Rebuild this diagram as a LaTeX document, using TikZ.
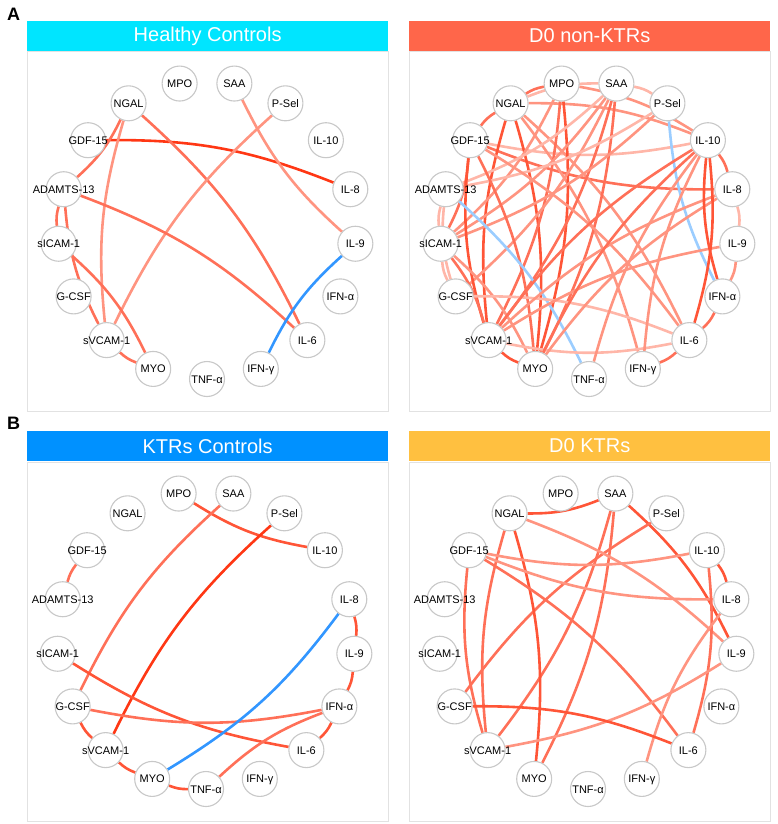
\documentclass[tikz,border=0pt]{standalone}
\usepackage{fontspec}
\setmainfont{Liberation Sans}
\usetikzlibrary{positioning}
\pgfdeclarelayer{links}
\pgfsetlayers{links,main}

% header colours
\definecolor{hccol}{RGB}{0,229,255}
\definecolor{nkcol}{RGB}{255,102,74}
\definecolor{kccol}{RGB}{0,145,255}
\definecolor{dkcol}{RGB}{255,192,64}
\definecolor{ringcol}{RGB}{200,200,200}
\definecolor{framecol}{RGB}{226,226,226}
% link colours
\definecolor{ecD}{RGB}{255,55,20}
\definecolor{ecS}{RGB}{255,85,55}
\definecolor{ecM}{RGB}{255,112,88}
\definecolor{ecL}{RGB}{255,148,128}
\definecolor{ecP}{RGB}{255,182,168}
\definecolor{ecB}{RGB}{50,150,255}
\definecolor{ecNB}{RGB}{155,205,255}

\tikzset{
  cyto/.style={circle, draw=ringcol, line width=1.1pt, fill=white,
    minimum size=35pt, inner sep=0pt, text height=8pt, text depth=0pt,
    font=\fontsize{11}{13}\selectfont},
  link/.style={line width=2.6pt, bend left=11},
  head/.style={minimum width=361pt, minimum height=30.6pt, inner sep=0pt,
    text=white, font=\fontsize{20}{24}\selectfont},
  frame/.style={draw=framecol, line width=0.8pt, minimum width=361pt,
    minimum height=359.5pt, inner sep=0pt, anchor=north},
  tag/.style={font=\bfseries\fontsize{18}{21}\selectfont}
}

% ring of 17 markers: prefix, centre x, centre y
\newcommand{\cytoring}[3]{%
  \foreach \nm/\lbl [count=\i from 0] in {TNFa/TNF-α,IFNg/IFN-γ,IL6/IL-6,
      IFNa/IFN-α,IL9/IL-9,IL8/IL-8,IL10/IL-10,PSel/P-Sel,SAA/SAA,MPO/MPO,
      NGAL/NGAL,GDF15/GDF-15,ADAMTS13/ADAMTS-13,sICAM1/sICAM-1,GCSF/G-CSF,
      sVCAM1/sVCAM-1,MYO/MYO}
    \node[cyto] (#1\nm) at ({#2+149*cos(-90+\i*360/17)},{#3-149*sin(-90+\i*360/17)})
      {\makebox[0pt]{\lbl}};
}
% links of one panel: prefix, list from/to/colour
\newcommand{\cytolinks}[2]{%
  \foreach \a/\b/\c in {#2}
    \draw[link, draw=\c] (#1\a) to (#1\b);
}

\begin{document}
\begin{tikzpicture}[x=1pt, y=-1pt]
  \useasboundingbox (0,0) rectangle (777,824);

  % Panel tags.
  \node[tag] (tagA) at (13.5,14.5) {A};
  \node[tag] (tagB) at (13.5,423.5) {B};

  % Headers and frames.
  \node[head, fill=hccol] (hchead) at (207.65,36) {Healthy Controls};
  \node[frame] (hcframe) at (hchead.south) {};
  \node[head, fill=nkcol] (nkhead) at (589.8,36) {D0 non-KTRs};
  \node[frame] (nkframe) at (nkhead.south) {};
  \node[head, fill=kccol] (kchead) at (207.65,446) {KTRs Controls};
  \node[frame] (kcframe) at (kchead.south) {};
  \node[head, fill=dkcol] (dkhead) at (589.8,446) {D0 KTRs};
  \node[frame] (dkframe) at (dkhead.south) {};

  % Marker rings.
  \cytoring{hc}{207}{230}
  \cytoring{nk}{589}{230}
  \cytoring{kc}{206}{640}
  \cytoring{dk}{588}{640}

  \begin{pgfonlayer}{links}
    % Healthy Controls.
    \cytolinks{hc}{GDF15/IL8/ecD, sVCAM1/NGAL/ecL, NGAL/IL6/ecM,
      NGAL/ADAMTS13/ecM, IL9/SAA/ecL, sVCAM1/PSel/ecL, sICAM1/ADAMTS13/ecM,
      sVCAM1/ADAMTS13/ecM, ADAMTS13/IL6/ecM, sICAM1/MYO/ecM,
      MYO/sVCAM1/ecM, IFNg/IL9/ecB}

    % D0 non-KTRs.
    \cytolinks{nk}{GDF15/NGAL/ecM, NGAL/MPO/ecM, SAA/PSel/ecP, NGAL/SAA/ecP,
      NGAL/IL10/ecL, MPO/IL10/ecL, IL10/GDF15/ecP, IL8/GDF15/ecM,
      sVCAM1/NGAL/ecS, NGAL/MYO/ecS, NGAL/IFNg/ecL, NGAL/IL6/ecL,
      MPO/MYO/ecS, MPO/sVCAM1/ecM, MPO/sICAM1/ecL, SAA/sICAM1/ecL,
      SAA/ADAMTS13/ecP, SAA/sVCAM1/ecM, SAA/MYO/ecM, SAA/GCSF/ecL,
      PSel/ADAMTS13/ecP, PSel/sICAM1/ecL, IFNa/PSel/ecNB, GDF15/sICAM1/ecM,
      sVCAM1/GDF15/ecS, GDF15/MYO/ecM, GDF15/IL6/ecL, sICAM1/ADAMTS13/ecP,
      GCSF/ADAMTS13/ecP, GCSF/sICAM1/ecP, ADAMTS13/TNFa/ecNB,
      sICAM1/sVCAM1/ecM, sICAM1/MYO/ecL, GCSF/IL6/ecP, MYO/sVCAM1/ecS,
      IL6/sVCAM1/ecP, sVCAM1/IL10/ecM, sVCAM1/IL8/ecL, sVCAM1/IL9/ecL,
      MYO/IL10/ecM, MYO/IL8/ecL, TNFa/IL10/ecL, IFNg/IL10/ecL,
      IL10/IL8/ecM, IL10/IL6/ecS, IFNa/IL10/ecS, IL8/IL9/ecP,
      IL9/IFNa/ecL, IFNa/IL6/ecM, IL6/IFNg/ecM}

    % KTRs Controls.
    \cytolinks{kc}{ADAMTS13/GDF15/ecM, IL10/MPO/ecS, GCSF/SAA/ecM,
      sVCAM1/PSel/ecD, IL6/sICAM1/ecS, IFNa/GCSF/ecM, sVCAM1/GCSF/ecS,
      MYO/sVCAM1/ecS, TNFa/MYO/ecS, IL8/MYO/ecB, TNFa/IFNa/ecM,
      IL8/IL9/ecS, IL9/IFNa/ecS, IFNa/IL6/ecS}

    % D0 KTRs.
    \cytolinks{dk}{SAA/NGAL/ecS, SAA/sVCAM1/ecM, SAA/MYO/ecM, SAA/IL9/ecS,
      GCSF/PSel/ecM, sVCAM1/NGAL/ecM, NGAL/MYO/ecS, NGAL/IL9/ecL,
      IL10/GDF15/ecL, IL8/GDF15/ecL, GDF15/IL6/ecM, sVCAM1/GDF15/ecM,
      IL10/IL8/ecS, IL10/IL6/ecM, IFNg/IL8/ecL, IL9/sVCAM1/ecL,
      GCSF/IL6/ecS}
  \end{pgfonlayer}

\end{tikzpicture}
\end{document}
